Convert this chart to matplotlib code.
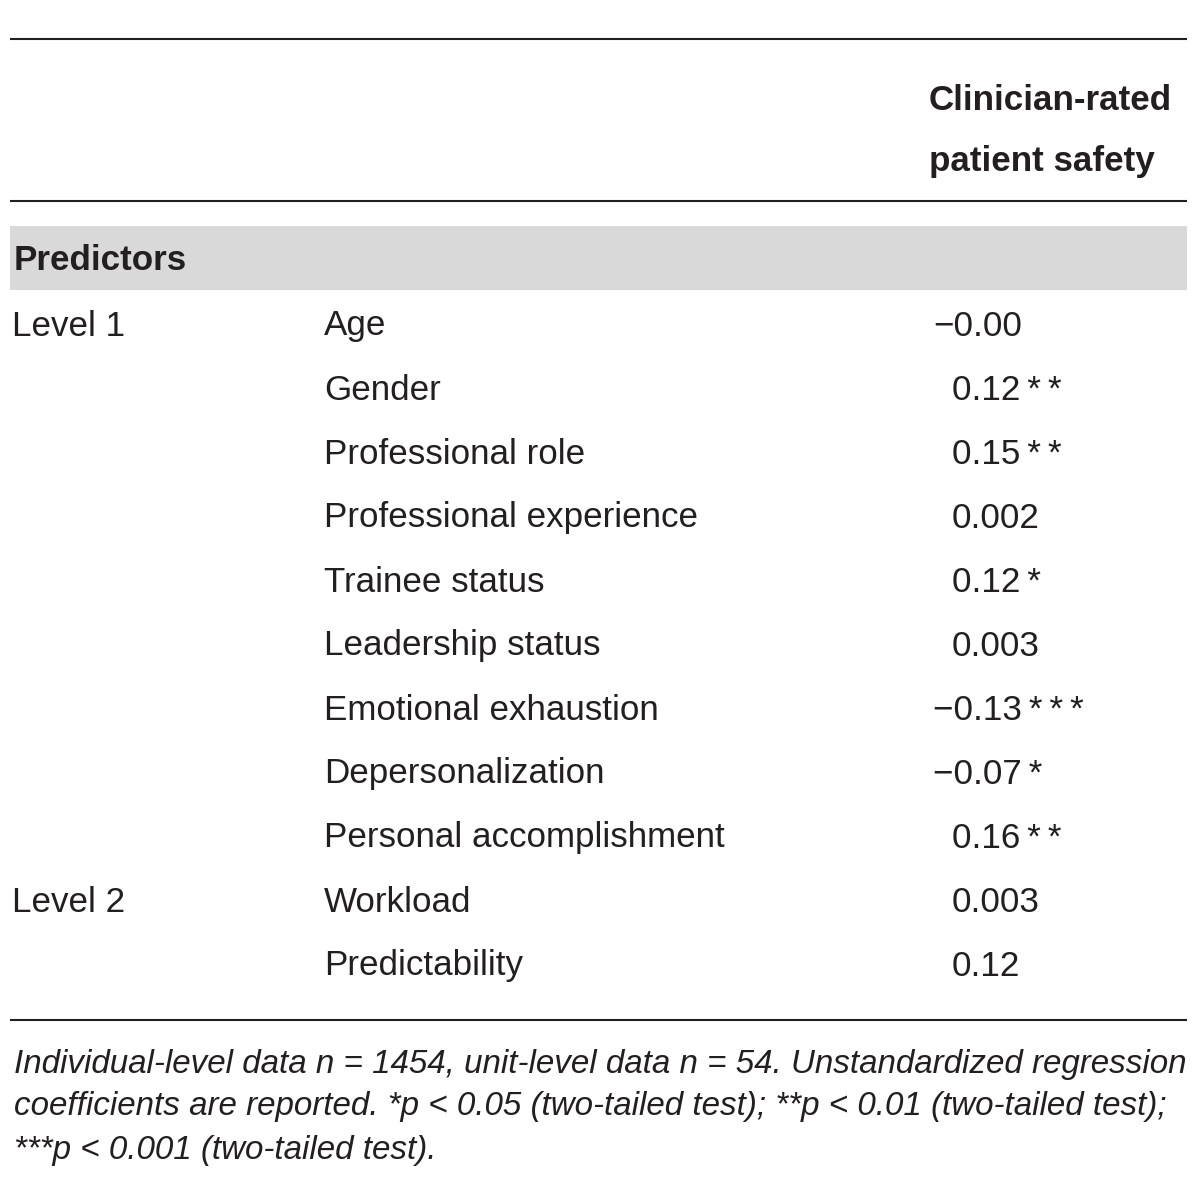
import matplotlib
matplotlib.use("Agg")
import matplotlib.pyplot as plt
from matplotlib.patches import Rectangle

# ---- data ----
header_lines = ["Clinician-rated", "patient safety"]
section_label = "Predictors"
levels = ["Level 1", "", "", "", "", "", "", "", "", "Level 2", ""]
predictors = ["Age", "Gender", "Professional role", "Professional experience",
              "Trainee status", "Leadership status", "Emotional exhaustion",
              "Depersonalization", "Personal accomplishment", "Workload",
              "Predictability"]
coefficients = ["\u22120.00", "0.12**", "0.15**", "0.002", "0.12*", "0.003",
                "\u22120.13***", "\u22120.07*", "0.16**", "0.003", "0.12"]
footnote = ["Individual-level data n = 1454, unit-level data n = 54. Unstandardized regression",
            "coefficients are reported. *p < 0.05 (two-tailed test); **p < 0.01 (two-tailed test);",
            "***p < 0.001 (two-tailed test)."]

W, H = 1200, 1178
fig = plt.figure(figsize=(W / 100, H / 100), dpi=100)
ax = fig.add_axes([0, 0, 1, 1])
ax.set_xlim(0, W)
ax.set_ylim(H, 0)
ax.axis("off")

FONT = "Liberation Sans"
TXT = "#231f20"
FS = 25.2


def spaced(s):
    # the reference sets significance stars slightly apart
    return s.replace("*", "\u2009*")


# rules
for y in (39, 201, 1020):
    ax.plot([10, 1187], [y, y], color="#231f20", lw=1.5, solid_capstyle="butt")

# gray band
ax.add_patch(Rectangle((10, 226), 1177, 64, facecolor="#d9d9d9", edgecolor="none"))

# header
for i, line in enumerate(header_lines):
    ax.text(929, 100 + i * 62, line, fontsize=FS, fontweight="bold", family=FONT,
            color=TXT, va="center", ha="left")
ax.text(14, 261, section_label, fontsize=FS, fontweight="bold", family=FONT,
        color=TXT, va="center", ha="left")

row_y0, row_dy = 326, 64
for i, (lev, pred, coef) in enumerate(zip(levels, predictors, coefficients)):
    y = row_y0 + i * row_dy
    if lev:
        ax.text(12, y, lev, fontsize=FS, family=FONT, color=TXT, va="center", ha="left")
    ax.text(324, y, pred, fontsize=FS, family=FONT, color=TXT, va="center", ha="left")
    x = 933 if coef.startswith("\u2212") else 952
    ax.text(x, y, spaced(coef), fontsize=FS, family=FONT, color=TXT, va="center", ha="left")

for i, line in enumerate(footnote):
    ax.text(14, 1064 + i * 43, line, fontsize=23.9, family=FONT, style="italic",
            color=TXT, va="center", ha="left")

fig.savefig("out.png", dpi=100, facecolor="white")
